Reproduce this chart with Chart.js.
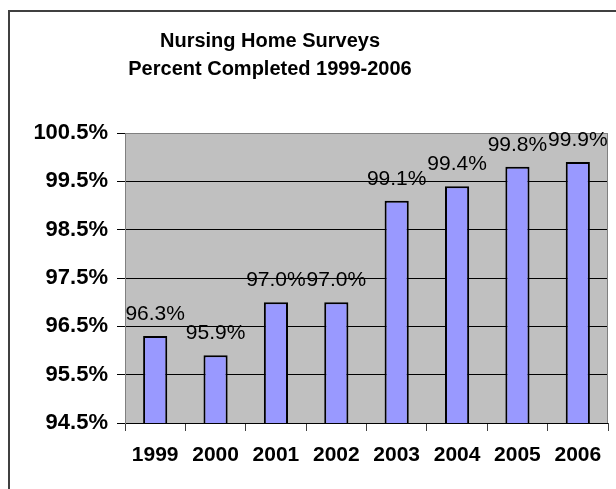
<!DOCTYPE html>
<html>
<head>
<meta charset="utf-8">
<script src="https://cdn.jsdelivr.net/npm/chart.js@4/dist/chart.umd.min.js"></script>
<style>
  html, body { margin: 0; padding: 0; background: #fff; }
  canvas { display: block; }
</style>
</head>
<body>
<canvas id="chart" width="616" height="489"></canvas>
<script>
// --- data ---
const years = ['1999', '2000', '2001', '2002', '2003', '2004', '2005', '2006'];
const percentCompleted = [96.3, 95.9, 97.0, 97.0, 99.1, 99.4, 99.8, 99.9];
const yTicks = [94.5, 95.5, 96.5, 97.5, 98.5, 99.5, 100.5];
const titleLines = ['Nursing Home Surveys', 'Percent Completed 1999-2006'];

const FONT = '"Liberation Sans", Arial, sans-serif';
const fmt = (v) => Number(v).toFixed(1) + '%';

// frame, plot background, title
const frame = {
    id: 'frame',
    beforeDraw(chart) {
        const { ctx, chartArea: a } = chart;
        ctx.save();
        ctx.fillStyle = '#fff';
        ctx.fillRect(0, 0, chart.width, chart.height);
        ctx.strokeStyle = '#404040';
        ctx.lineWidth = 2;
        ctx.beginPath();
        ctx.moveTo(9, chart.height + 2);
        ctx.lineTo(9, 11);
        ctx.lineTo(chart.width + 2, 11);
        ctx.stroke();
        ctx.fillStyle = '#c0c0c0';
        ctx.fillRect(a.left, a.top, a.right - a.left, a.bottom - a.top);
        ctx.fillStyle = '#000';
        ctx.font = 'bold 20px ' + FONT;
        ctx.textAlign = 'center';
        ctx.textBaseline = 'alphabetic';
        titleLines.forEach((t, i) => ctx.fillText(t, 270, 47 + i * 28));
        ctx.restore();
    },
    beforeDatasetsDraw(chart) {
        const { ctx, chartArea: a } = chart;
        ctx.save();
        ctx.strokeStyle = '#808080';
        ctx.lineWidth = 1;
        ctx.beginPath();
        ctx.moveTo(a.right - 0.5, a.top);
        ctx.lineTo(a.right - 0.5, a.bottom);
        ctx.stroke();
        ctx.restore();
    },
    // value labels above the bars (not clipped to the plot)
    afterDatasetsDraw(chart) {
        const { ctx } = chart;
        const meta = chart.getDatasetMeta(0);
        ctx.save();
        ctx.fillStyle = '#000';
        ctx.font = '21px ' + FONT;
        ctx.textAlign = 'center';
        ctx.textBaseline = 'alphabetic';
        meta.data.forEach((bar, i) => {
            ctx.fillText(fmt(percentCompleted[i]), bar.x, bar.y - 16);
        });
        ctx.restore();
    }
};

new Chart(document.getElementById('chart'), {
    type: 'bar',
    data: {
        labels: years,
        datasets: [{
            data: percentCompleted,
            backgroundColor: '#9999ff',
            borderColor: '#000',
            borderWidth: 2,
            barPercentage: 0.4,
            categoryPercentage: 1
        }]
    },
    options: {
        responsive: false,
        animation: false,
        layout: { padding: { top: 133, right: 8, bottom: 0, left: 0 } },
        plugins: {
            legend: { display: false },
            title: { display: false },
            tooltip: { enabled: false }
        },
        scales: {
            x: {
                afterFit: (s) => { s.height = 66; },
                grid: {
                    offset: true,
                    drawOnChartArea: false,
                    tickLength: 8,
                    color: '#404040'
                },
                border: { display: false },
                ticks: {
                    color: '#000',
                    padding: 12,
                    font: { family: FONT, size: 21, weight: 'bold' }
                }
            },
            y: {
                min: yTicks[0],
                max: yTicks[yTicks.length - 1],
                afterBuildTicks: (s) => { s.ticks = yTicks.map(v => ({ value: v })); },
                afterFit: (s) => { s.width = 125; },
                grid: {
                    color: (c) => c.tick && c.tick.value === yTicks[yTicks.length - 1] ? '#808080' : '#000',
                    tickColor: '#000',
                    tickLength: 8
                },
                border: { color: '#808080' },
                ticks: {
                    color: '#000',
                    padding: 9,
                    callback: (v) => fmt(v),
                    font: { family: FONT, size: 22, weight: 'bold' }
                }
            }
        }
    },
    plugins: [frame]
});
</script>
</body>
</html>
